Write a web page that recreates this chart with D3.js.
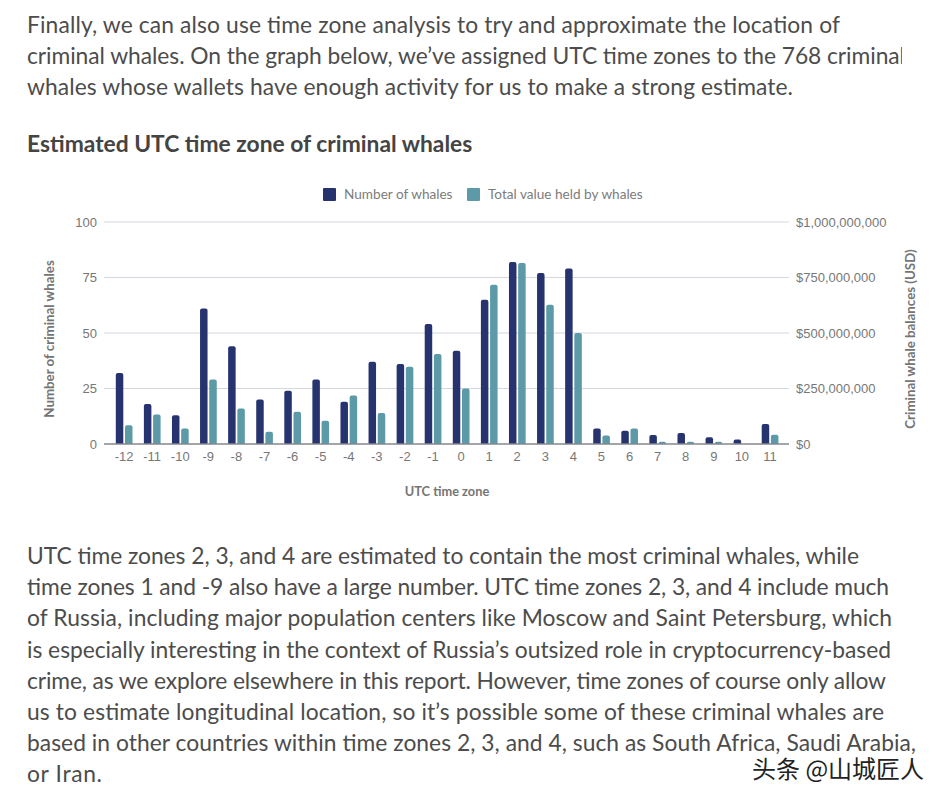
<!DOCTYPE html>
<html>
<head>
<meta charset="utf-8">
<script src="https://cdnjs.cloudflare.com/ajax/libs/d3/7.8.5/d3.min.js"></script>
<style>
  html, body { margin: 0; background: #fff; }
  svg { display: block; font-family: Lato, "Noto Sans", sans-serif; }
  .para { font-size: 22.8px; fill: #4c4c4c; }
  .title { font-size: 22.8px; font-weight: 700; fill: #444; }
  .axis text { font-size: 13px; fill: #777; }
  .axis path, .axis line { stroke: none; }
  .label { font-size: 12.8px; font-weight: 700; fill: #757575; }
  .label.side { font-size: 13.3px; }
  .legend text { font-size: 13.6px; fill: #7c7c7c; }
  .grid { stroke: #d4d8de; stroke-width: 1.2; }
  .mark { font-family: "Noto Sans CJK SC"; font-size: 24px; fill: #222; stroke: #fff; stroke-width: 3px; paint-order: stroke; }
</style>
</head>
<body>
<div id="chart"></div>
<script>
// text around the chart
var introLines = [
  "Finally, we can also use time zone analysis to try and approximate the location of",
  "criminal whales. On the graph below, we\u2019ve assigned UTC time zones to the 768 criminal",
  "whales whose wallets have enough activity for us to make a strong estimate."
];
var introWidths = [813, 878, 766];
var bodyLines = [
  "UTC time zones 2, 3, and 4 are estimated to contain the most criminal whales, while",
  "time zones 1 and -9 also have a large number. UTC time zones 2, 3, and 4 include much",
  "of Russia, including major population centers like Moscow and Saint Petersburg, which",
  "is especially interesting in the context of Russia\u2019s outsized role in cryptocurrency-based",
  "crime, as we explore elsewhere in this report. However, time zones of course only allow",
  "us to estimate longitudinal location, so it\u2019s possible some of these criminal whales are",
  "based in other countries within time zones 2, 3, and 4, such as South Africa, Saudi Arabia,",
  "or Iran."
];
var bodyWidths = [832, 862, 865, 864, 859, 857, 889, 75];

// values
var zones = [-12, -11, -10, -9, -8, -7, -6, -5, -4, -3, -2, -1, 0, 1, 2, 3, 4, 5, 6, 7, 8, 9, 10, 11];
var whales = [32, 18, 13, 61, 44, 20, 24, 29, 19, 37, 36, 54, 42, 65, 82, 77, 79, 7, 6, 4, 5, 3, 2, 9];
var balances = [85, 133, 70, 290, 160, 55, 145, 105, 218, 140, 348, 405, 250, 717, 815, 627, 500, 38, 70, 10, 10, 10, 0, 42]
  .map(function(d) { return d * 1e6; });
var whaleTicks = [0, 25, 50, 75, 100];
var balanceTicks = [0, 25e7, 5e8, 75e7, 1e9];
var seriesNames = ["Number of whales", "Total value held by whales"];

var navy = "#27336f", teal = "#5b9aa6";

var width = 946, height = 801;
var plot = {top: 222, right: 789, bottom: 444, left: 104};

// scales
var x = d3.scaleBand().domain(zones).range([110, 784]);
var yLeft = d3.scaleLinear().domain([0, 100]).range([plot.bottom, plot.top]);
var yRight = d3.scaleLinear().domain([0, 1e9]).range([plot.bottom, plot.top]);

var svg = d3.select("#chart").append("svg")
    .attr("width", width)
    .attr("height", height);

// the source screenshot cuts the intro text off on the right
svg.append("clipPath")
    .attr("id", "intro-clip")
  .append("rect")
    .attr("width", 902)
    .attr("height", 110);

// paragraphs
svg.selectAll(".intro")
  .data(introLines)
  .enter().append("text")
    .attr("class", "para intro")
    .attr("clip-path", "url(#intro-clip)")
    .attr("x", 27)
    .attr("y", function(d, i) { return 33 + i * 31.2; })
    .attr("textLength", function(d, i) { return introWidths[i]; })
    .text(function(d) { return d; });

svg.append("text")
    .attr("class", "title")
    .attr("x", 27)
    .attr("y", 152)
    .text("Estimated UTC time zone of criminal whales");

svg.selectAll(".body")
  .data(bodyLines)
  .enter().append("text")
    .attr("class", "para body")
    .attr("x", 27)
    .attr("y", function(d, i) { return 564 + i * 31.2; })
    .attr("textLength", function(d, i) { return bodyWidths[i]; })
    .text(function(d) { return d; });

// gridlines
svg.selectAll(".grid")
  .data(whaleTicks.slice(1))
  .enter().append("line")
    .attr("class", "grid")
    .attr("x1", plot.left)
    .attr("x2", plot.right)
    .attr("y1", function(d) { return yLeft(d); })
    .attr("y2", function(d) { return yLeft(d); });

// bar with rounded top
function bar(bx, by, w, base) {
  var r = Math.min(2, w / 2, base - by);
  return "M" + bx + "," + base + "V" + (by + r) +
    "Q" + bx + "," + by + " " + (bx + r) + "," + by +
    "H" + (bx + w - r) +
    "Q" + (bx + w) + "," + by + " " + (bx + w) + "," + (by + r) +
    "V" + base + "Z";
}

svg.selectAll(".bar-whales")
  .data(zones)
  .enter().append("path")
    .attr("class", "bar-whales")
    .attr("fill", navy)
    .attr("d", function(d, i) {
      return bar(x(d) + 5.8, yLeft(whales[i]), 7.5, plot.bottom);
    });

svg.selectAll(".bar-balances")
  .data(zones)
  .enter().append("path")
    .attr("class", "bar-balances")
    .attr("fill", teal)
    .attr("d", function(d, i) {
      return bar(x(d) + 15, yRight(balances[i]), 7.5, plot.bottom);
    });

// baseline
svg.append("line")
    .attr("x1", plot.left)
    .attr("x2", plot.right)
    .attr("y1", plot.bottom)
    .attr("y2", plot.bottom)
    .attr("stroke", "#85878c")
    .attr("stroke-width", 1.5);

// axes
svg.append("g")
    .attr("class", "axis")
    .attr("transform", "translate(0," + plot.bottom + ")")
    .call(d3.axisBottom(x).tickSize(0).tickPadding(8));

svg.append("g")
    .attr("class", "axis")
    .attr("transform", "translate(" + plot.left + ",0)")
    .call(d3.axisLeft(yLeft).tickValues(whaleTicks).tickSize(0).tickPadding(7));

svg.append("g")
    .attr("class", "axis")
    .attr("transform", "translate(" + plot.right + ",0)")
    .call(d3.axisRight(yRight).tickValues(balanceTicks).tickFormat(d3.format("$,")).tickSize(0).tickPadding(7));

// axis titles
svg.append("text")
    .attr("class", "label")
    .attr("text-anchor", "middle")
    .attr("x", 447)
    .attr("y", 496)
    .text("UTC time zone");

svg.append("text")
    .attr("class", "label side")
    .attr("text-anchor", "middle")
    .attr("transform", "translate(54,339) rotate(-90)")
    .text("Number of criminal whales");

svg.append("text")
    .attr("class", "label side")
    .attr("text-anchor", "middle")
    .attr("transform", "translate(915,339) rotate(-90)")
    .text("Criminal whale balances (USD)");

// legend
var legend = svg.append("g").attr("class", "legend");
var legendX = [323, 467];
seriesNames.forEach(function(name, i) {
  legend.append("rect")
      .attr("x", legendX[i])
      .attr("y", 188)
      .attr("width", 13)
      .attr("height", 13)
      .attr("rx", 1)
      .attr("fill", i == 0 ? navy : teal);
  legend.append("text")
      .attr("x", legendX[i] + 21)
      .attr("y", 199)
      .text(name);
});

// watermark
svg.append("text")
    .attr("class", "mark")
    .attr("x", 752)
    .attr("y", 778)
    .text("头条 @山城匠人");
</script>
</body>
</html>
